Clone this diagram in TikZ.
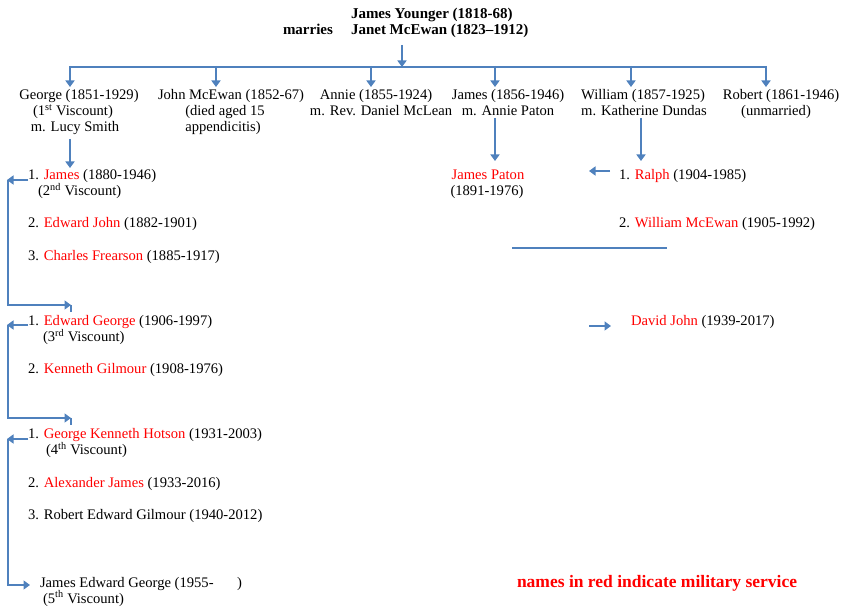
\documentclass[tikz,border=0pt]{standalone}
\usepackage{fontspec}
\setmainfont{Liberation Serif}
\usetikzlibrary{arrows.meta}
\definecolor{connblue}{RGB}{79,129,189}
\definecolor{milred}{RGB}{255,0,0}
\newcommand{\svc}[1]{\textcolor{milred}{#1}}
\begin{document}
\begin{tikzpicture}[x=1pt,y=-1pt,
  every node/.style={inner sep=0pt,outer sep=0pt},
  ln/.style={font=\fontsize{14.6}{16}\selectfont, anchor=base},
  lt/.style={font=\fontsize{14.6}{16}\selectfont, anchor=base west},
  head/.style={font=\bfseries\fontsize{15}{16}\selectfont, anchor=base west},
  wire/.style={draw=connblue, line width=2.6pt},
  arr/.style={wire, -{Triangle[width=9pt,length=6.5pt]}},
]
\useasboundingbox (0,0) rectangle (844,609);

% parents
\node[head] (parents)  at (351,19) {James Younger (1818-68)};
\node[head] (parents2) at (351,35) {Janet McEwan (1823--1912)};
\node[head] (marries)  at (283,35) {marries};

% generation 1
\node[ln] (george)   at (79,100)   {George (1851-1929)};
\node[ln] (george2)  at (73,116)  {(1\textsuperscript{st} Viscount)};
\node[ln] (george3)  at (75,132)  {m. Lucy Smith};
\node[ln] (john)     at (231,100)  {John McEwan (1852-67)};
\node[ln] (john2)    at (225,116) {(died aged 15};
\node[ln] (john3)    at (223,132) {appendicitis)};
\node[ln] (annie)    at (376,100)  {Annie (1855-1924)};
\node[ln] (annie2)   at (381,116) {m. Rev. Daniel McLean};
\node[ln] (jamesS)   at (508,100)  {James (1856-1946)};
\node[ln] (jamesS2)  at (508,116) {m. Annie Paton};
\node[ln] (william)  at (643,100)  {William (1857-1925)};
\node[ln] (william2) at (644,116) {m. Katherine Dundas};
\node[ln] (robert)   at (781,100)  {Robert (1861-1946)};
\node[ln] (robert2)  at (776,116) {(unmarried)};

% bus
\coordinate (ptop) at (402,45);
\coordinate (bus)  at (402,67);
\coordinate (d1) at (70,67);
\coordinate (d2) at (216,67);
\coordinate (d3) at (371,67);
\coordinate (d4) at (495,67);
\coordinate (d5) at (631,67);
\coordinate (d6) at (766,67);
\coordinate (dy) at (0,87);
\draw[arr] (ptop) -- (bus);
\draw[wire] (d1) -- (d6);
\draw[arr] ([yshift=1pt]d1) -- (d1 |- dy);
\draw[arr] ([yshift=1pt]d2) -- (d2 |- dy);
\draw[arr] ([yshift=1pt]d3) -- (d3 |- dy);
\draw[arr] ([yshift=1pt]d4) -- (d4 |- dy);
\draw[arr] ([yshift=1pt]d5) -- (d5 |- dy);
\draw[arr] ([yshift=1pt]d6) -- (d6 |- dy);

% generation 2 (left)
\node[lt] (j2)   at (28,180) {1. \svc{James} (1880-1946)};
\node[lt] (j2b)  at (38,196) {(2\textsuperscript{nd} Viscount)};
\node[lt] (ej2)  at (28,228) {2. \svc{Edward John} (1882-1901)};
\node[lt] (cf2)  at (28,261) {3. \svc{Charles Frearson} (1885-1917)};
% generation 3
\node[lt] (eg3)  at (28,326) {1. \svc{Edward George} (1906-1997)};
\node[lt] (eg3b) at (43,342) {(3\textsuperscript{rd} Viscount)};
\node[lt] (kg3)  at (28,374) {2. \svc{Kenneth Gilmour} (1908-1976)};
% generation 4
\node[lt] (gk4)  at (28,439) {1. \svc{George Kenneth Hotson} (1931-2003)};
\node[lt] (gk4b) at (46,455) {(4\textsuperscript{th} Viscount)};
\node[lt] (aj4)  at (28,488) {2. \svc{Alexander James} (1933-2016)};
\node[lt] (re4)  at (28,520) {3. Robert Edward Gilmour (1940-2012)};
% generation 5
\node[lt] (jeg5)  at (40,587) {James Edward George (1955-\hspace{1.6em})};
\node[lt] (jeg5b) at (43,603) {(5\textsuperscript{th} Viscount)};

% right side
\node[ln] (jp)  at (488,180) {\svc{James Paton}};
\node[ln] (jp2) at (487,196) {(1891-1976)};
\node[lt] (ra)  at (619,180) {1. \svc{Ralph} (1904-1985)};
\node[lt] (wm)  at (619,228) {2. \svc{William McEwan} (1905-1992)};
\node[lt] (dj)  at (631,326) {\svc{David John} (1939-2017)};
\node[anchor=base west, font=\bfseries\fontsize{17.5}{20}\selectfont, text=milred] (note) at (517,587) {names in red indicate military service};

% descending arrows
\coordinate (g1a) at (70,139);
\coordinate (g1b) at (70,168);
\draw[arr] (g1a) -- (g1b);
\coordinate (jsa) at (495,118);
\coordinate (jsb) at (495,161);
\draw[arr] (jsa) -- (jsb);
\coordinate (wia) at (641,118);
\coordinate (wib) at (641,161);
\draw[arr] (wia) -- (wib);

% right side arrows and line
\coordinate (rla) at (610,171);
\coordinate (rlb) at (589,171);
\draw[arr] (rla) -- (rlb);
\coordinate (la) at (512,248);
\coordinate (lb) at (667,248);
\draw[wire] (la) -- (lb);
\coordinate (dja) at (589,326);
\coordinate (djb) at (611,326);
\draw[arr] (dja) -- (djb);

% elbow connectors (left)
\coordinate (c1a) at (28,180);
\coordinate (c1b) at (7,180);
\coordinate (c1c) at (8,305);
\coordinate (c1d) at (71,305);
\coordinate (c1e) at (71,312);
\draw[arr] (c1a) -- (c1b);
\draw[arr] (c1b -| c1c) -- (c1c) -- (c1d);
\draw[wire] (c1d) -- (c1e);

\coordinate (c2a) at (28,325);
\coordinate (c2b) at (7,325);
\coordinate (c2c) at (8,418);
\coordinate (c2d) at (71,418);
\coordinate (c2e) at (71,425);
\draw[arr] (c2a) -- (c2b);
\draw[arr] (c2b -| c2c) -- (c2c) -- (c2d);
\draw[wire] (c2d) -- (c2e);

\coordinate (c3a) at (28,439);
\coordinate (c3b) at (7,439);
\coordinate (c3c) at (8,585);
\coordinate (c3d) at (30,585);
\draw[arr] (c3a) -- (c3b);
\draw[arr] (c3b -| c3c) -- (c3c) -- (c3d);
\end{tikzpicture}
\end{document}
